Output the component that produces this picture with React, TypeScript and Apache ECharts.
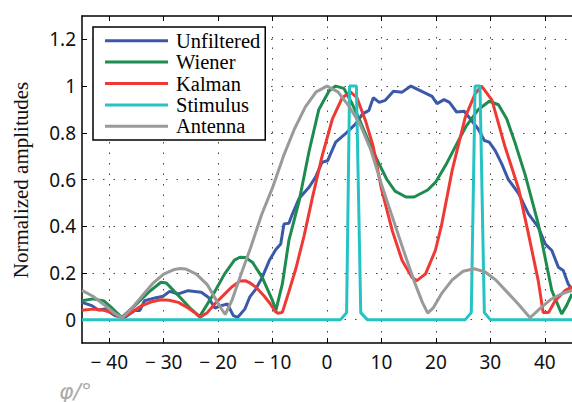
import React, { useEffect, useRef } from 'react';
import * as echarts from 'echarts';

const xTicks = [-40, -30, -20, -10, 0, 10, 20, 30, 40];
const yTicks = [0, 0.2, 0.4, 0.6, 0.8, 1, 1.2];
const seriesNames = ['Unfiltered', 'Wiener', 'Kalman', 'Stimulus', 'Antenna'];
const yTitle = 'Normalized amplitudes';
const xTitle = 'φ/°';

const unfiltered: [number, number][] = [
  [-45, 0.074], [-43.2, 0.06], [-42, 0.041], [-40.8, 0.046], [-38.9, 0.017], [-37.1, 0.01],
  [-35.3, 0.039], [-34.4, 0.039], [-33.5, 0.081], [-31.6, 0.093], [-30.1, 0.1], [-28.9, 0.121],
  [-27.3, 0.11], [-25.5, 0.124], [-23.1, 0.117], [-21.8, 0.096], [-20.6, 0.05], [-19.4, 0.06],
  [-18.3, 0.067], [-17.2, 0.017], [-16.4, 0.01], [-15.1, 0.045], [-14.2, 0.096], [-13.1, 0.13],
  [-11.9, 0.181], [-10.6, 0.253], [-9.4, 0.3], [-8.5, 0.324], [-7.9, 0.41], [-7, 0.413],
  [-6.4, 0.45], [-5.1, 0.52], [-3.3, 0.567], [-2.1, 0.61], [-0.9, 0.674], [0.1, 0.68],
  [1.6, 0.76], [3.4, 0.796], [5.3, 0.839], [6.5, 0.88], [7.7, 0.896], [8.5, 0.95], [9.6, 0.93],
  [10.7, 0.939], [12.2, 0.978], [13.8, 0.974], [15.4, 1.0], [17.5, 0.976], [19.3, 0.956],
  [20.2, 0.925], [21.5, 0.942], [22.5, 0.93], [23.8, 0.889], [25.2, 0.892], [26.3, 0.86],
  [27.8, 0.815], [28.9, 0.767], [29.8, 0.76], [30.9, 0.724], [32.1, 0.667], [33.3, 0.6],
  [35.2, 0.54], [37, 0.453], [38.8, 0.396], [40.1, 0.324], [41.3, 0.296], [42.5, 0.224],
  [43.4, 0.21], [44.3, 0.153], [45, 0.13],
];

const wiener: [number, number][] = [
  [-45, 0.081], [-43, 0.089], [-41, 0.08], [-39.5, 0.05], [-37.7, 0.01], [-35.3, 0.06],
  [-32.8, 0.117], [-30.5, 0.16], [-29.5, 0.157], [-28, 0.12], [-27, 0.096], [-25, 0.046],
  [-23.4, 0.013], [-21.2, 0.096], [-18.8, 0.196], [-17, 0.255], [-16, 0.267], [-15, 0.266],
  [-13.7, 0.246], [-11.9, 0.181], [-10, 0.081], [-9.4, 0.039], [-8.2, 0.153], [-7, 0.339],
  [-5.1, 0.51], [-3.3, 0.72], [-1.5, 0.9], [0.4, 0.98], [1.6, 1.0], [3.1, 0.99], [4.5, 0.93],
  [5.9, 0.86], [7.7, 0.76], [9.5, 0.67], [11, 0.6], [12.5, 0.55], [14.5, 0.525], [16, 0.525],
  [18.5, 0.555], [20, 0.59], [22, 0.67], [24, 0.76], [25.6, 0.83], [27.8, 0.9], [29.8, 0.935],
  [31.5, 0.92], [33, 0.86], [34.5, 0.76], [36.4, 0.62], [38.8, 0.41], [41.3, 0.124],
  [43.1, 0.024], [44, 0.06], [45, 0.11],
];

const kalman: [number, number][] = [
  [-45, 0.04], [-43, 0.045], [-41, 0.04], [-39.5, 0.03], [-37.7, 0.007], [-36, 0.03],
  [-34, 0.06], [-32, 0.078], [-30.5, 0.085], [-29, 0.083], [-27.3, 0.074], [-25.5, 0.05],
  [-24, 0.025], [-23.3, 0.01], [-22, 0.03], [-20.5, 0.07], [-19, 0.105], [-17.5, 0.14],
  [-16, 0.165], [-15, 0.167], [-14, 0.155], [-13, 0.138], [-11.5, 0.1], [-10.5, 0.07],
  [-9.5, 0.035], [-9, 0.027], [-8.2, 0.031], [-7, 0.12], [-5.7, 0.22], [-4.2, 0.36],
  [-2.7, 0.52], [-0.9, 0.7], [1, 0.86], [2.8, 0.95], [4.3, 0.975], [5.5, 0.95], [7.1, 0.85],
  [8.5, 0.74], [10, 0.56], [12, 0.38], [13.8, 0.253], [15.6, 0.181], [16.5, 0.167],
  [18.1, 0.196], [19.9, 0.296], [21, 0.4], [23, 0.64], [25.4, 0.867], [27.2, 0.967],
  [28.4, 1.0], [30.3, 0.94], [32.7, 0.74], [35.2, 0.56], [37, 0.367], [38.8, 0.167],
  [39.7, 0.031], [40.7, 0.031], [41.9, 0.081], [43.7, 0.124], [45, 0.14],
];

const stimulus: [number, number][] = [
  [-45, 0], [2.5, 0], [3.6, 0.03], [4.15, 1], [5.4, 1], [6.2, 0.03], [7.4, 0],
  [25.4, 0], [26.5, 0.03], [27.2, 1], [28.1, 1], [28.9, 0.03], [30, 0], [45, 0],
];

const antenna: [number, number][] = [
  [-45, 0.125], [-43, 0.1], [-41, 0.065], [-39, 0.027], [-37.6, 0.008], [-36, 0.045],
  [-34, 0.1], [-32, 0.155], [-30, 0.195], [-28, 0.215], [-27, 0.219], [-26, 0.217],
  [-24, 0.195], [-22, 0.15], [-20.5, 0.09], [-19.5, 0.05], [-18.7, 0.022], [-17.5, 0.08],
  [-16, 0.18], [-14, 0.31], [-12, 0.45], [-10, 0.565], [-8, 0.7], [-6, 0.815], [-4, 0.91],
  [-2, 0.975], [0, 1.0], [2, 0.975], [4, 0.915], [6, 0.84], [8, 0.73], [10, 0.58],
  [12, 0.44], [14, 0.3], [16, 0.165], [17.5, 0.075], [18.5, 0.028], [19.5, 0.05], [21, 0.11],
  [23, 0.17], [25, 0.207], [27, 0.218], [29, 0.205], [31, 0.17], [33, 0.12], [35, 0.07],
  [37.3, 0.008], [39, 0.045], [41, 0.085], [43, 0.11], [45, 0.125],
];

const seriesData = [unfiltered, wiener, kalman, stimulus, antenna];
const seriesColors = ['#3a59a8', '#1e8b4f', '#ee3935', '#25c3c3', '#9a9a9a'];

const fmtX = (v: number) => (v < 0 ? '\u2212 ' + String(-v) : String(v));
const fmtY = (v: number) => String(Math.round(v * 10) / 10);

export default function App() {
  const ref = useRef<HTMLDivElement>(null);
  useEffect(() => {
    if (!ref.current) return;
    const chart = echarts.init(ref.current, undefined, { renderer: 'svg' });
    const tickFont = { fontFamily: 'Noto Sans', fontSize: 19, color: '#111' };
    const gridLine = { show: true, lineStyle: { color: '#444', type: [1.5, 9] as any, width: 1 } };
    const axLine = { show: true, onZero: false, lineStyle: { color: '#000', width: 1.5 } };
    chart.setOption({
      animation: false,
      backgroundColor: '#fff',
      grid: { left: 82, top: 16, right: -1, bottom: 59, containLabel: false },
      xAxis: [
        {
          type: 'value', min: -45, max: 45, position: 'bottom',
          axisLine: axLine,
          axisTick: { show: true, inside: true, length: 5, customValues: xTicks, lineStyle: { color: '#000', width: 1 } },
          axisLabel: { show: true, customValues: xTicks, formatter: fmtX, margin: 9, ...tickFont },
          splitLine: gridLine,
        },
        {
          type: 'value', min: -45, max: 45, position: 'top',
          axisLine: axLine,
          axisTick: { show: true, inside: true, length: 5, customValues: xTicks, lineStyle: { color: '#000', width: 1 } },
          axisLabel: { show: false },
          splitLine: { show: false },
        },
      ],
      yAxis: [
        {
          type: 'value', min: -0.1, max: 1.3,
          axisLine: axLine,
          axisTick: { show: true, inside: true, length: 5, customValues: yTicks, lineStyle: { color: '#000', width: 1 } },
          axisLabel: { show: true, customValues: yTicks, formatter: fmtY, margin: 6, ...tickFont },
          splitLine: gridLine,
        },
      ],
      legend: {
        orient: 'vertical', left: 93, top: 27,
        padding: [3, 5, 3, 12],
        icon: 'rect',
        itemWidth: 63, itemHeight: 3, itemGap: 0,
        backgroundColor: '#fff', borderColor: '#000', borderWidth: 1.5, borderRadius: 0,
        textStyle: { fontFamily: 'Liberation Serif', fontSize: 20.5, color: '#000', lineHeight: 21.4, padding: [0, 0, 0, 3] },
        data: seriesNames,
        z: 10,
      },
      graphic: [
        {
          type: 'text', x: 21, y: 180, rotation: Math.PI / 2,
          style: { text: yTitle, font: '21px "Liberation Serif"', fill: '#111', align: 'center', verticalAlign: 'middle' },
        },
        {
          type: 'text', x: 59, y: 391,
          style: { text: xTitle, font: 'italic 22px "DejaVu Sans"', fill: '#aaa', align: 'left', verticalAlign: 'middle' },
        },
      ],
      series: seriesNames.map((name, i) => ({
        name, type: 'line', data: seriesData[i], symbol: 'none', showSymbol: false,
        lineStyle: { color: seriesColors[i], width: 3 }, itemStyle: { color: seriesColors[i] },
        xAxisIndex: 0, yAxisIndex: 0, clip: true,
      })),
    });
    return () => chart.dispose();
  }, []);
  return <div ref={ref} style={{ position: 'absolute', left: 0, top: 0, width: 572, height: 402 }} />;
}
